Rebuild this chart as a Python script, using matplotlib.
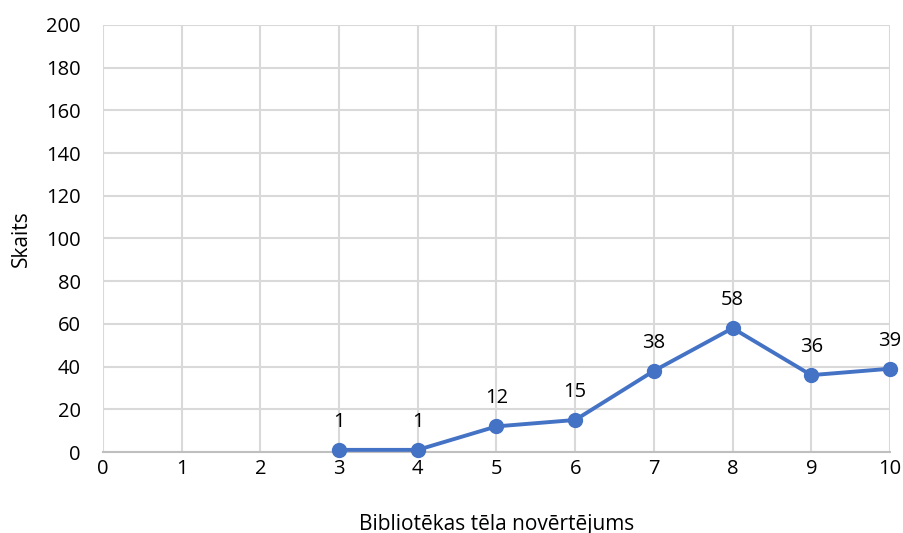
import matplotlib
matplotlib.use("Agg")
import matplotlib.pyplot as plt

x_vals = [3, 4, 5, 6, 7, 8, 9, 10]
counts = [1, 1, 12, 15, 38, 58, 36, 39]
x_ticks = list(range(0, 11))
y_ticks = list(range(0, 201, 20))

plt.rcParams['font.family'] = ['Open Sans', 'DejaVu Sans']

fig = plt.figure(figsize=(9.04, 5.33), dpi=100)
ax = fig.add_axes([103/904, 81/533, (890-103)/904, (452-25)/533])

color = '#4472C4'
ax.plot(x_vals, counts, color=color, linewidth=2.8, marker='o', markersize=10, zorder=3, clip_on=False)
for xv, yv in zip(x_vals, counts):
    ax.annotate(str(yv), (xv, yv), xytext=(0, 13), textcoords='offset points',
                ha='center', va='bottom', fontsize=14.5, color='#000000')

ax.set_xlim(0, 10)
ax.set_ylim(0, 200)
ax.set_xticks(x_ticks)
ax.set_yticks(y_ticks)
ax.grid(True, color='#D9D9D9', linewidth=1.5)
ax.set_axisbelow(True)
for s in ['top', 'right', 'left']:
    ax.spines[s].set_visible(False)
ax.spines['bottom'].set_color('#BFBFBF')
ax.spines['bottom'].set_linewidth(1.5)
ax.tick_params(axis='both', length=0, labelsize=14.5, colors='#000000')
ax.tick_params(axis='x', pad=5)
ax.tick_params(axis='y', pad=16)
ax.set_xlabel('Bibliotēkas tēla novērtējums', fontsize=15, labelpad=25)
ax.set_ylabel('Skaits', fontsize=15, labelpad=10)

fig.savefig('out.png', dpi=100)
